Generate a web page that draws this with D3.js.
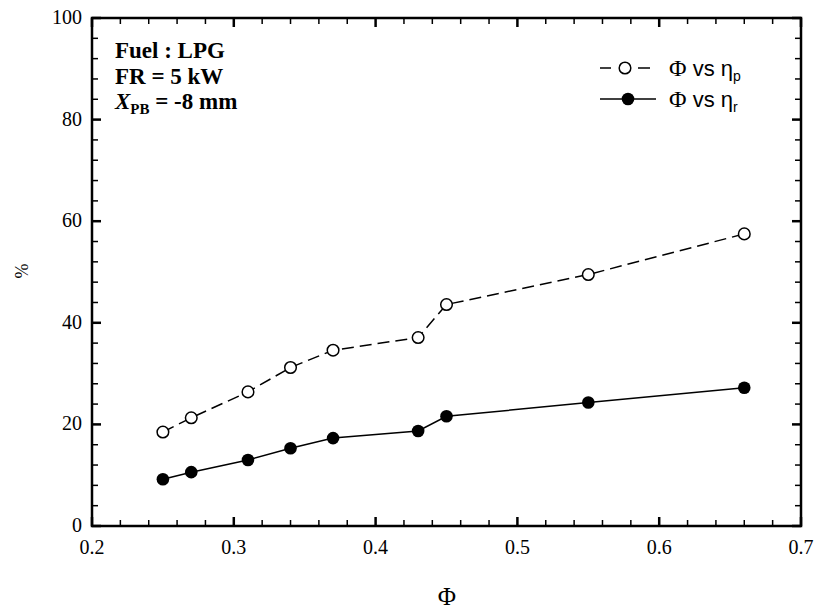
<!DOCTYPE html>
<html><head><meta charset="utf-8">
<script src="https://cdn.jsdelivr.net/npm/d3@7"></script>
<style>body{margin:0;background:#fff}</style>
</head><body>
<svg id="c" width="819" height="613"></svg>
<script>
const phi = [0.25, 0.27, 0.31, 0.34, 0.37, 0.43, 0.45, 0.55, 0.66];
const etaP = [18.5, 21.3, 26.4, 31.2, 34.6, 37.1, 43.6, 49.5, 57.5];
const etaR = [9.2, 10.6, 13.0, 15.3, 17.3, 18.7, 21.6, 24.3, 27.2];
const xTicks = [0.2, 0.3, 0.4, 0.5, 0.6, 0.7];
const yTicks = [0, 20, 40, 60, 80, 100];

const svg = d3.select("#c");
const L = 92, R = 801, T = 18, B = 526;
const x = d3.scaleLinear().domain([0.2, 0.7]).range([L, R]);
const y = d3.scaleLinear().domain([0, 100]).range([B, T]);
const serif = "'Liberation Serif','Times New Roman',serif";
const sans = "'Liberation Sans',Arial,sans-serif";

// minor ticks
const xMinor = d3.range(0.2, 0.7001, 0.02).filter(v => Math.abs(v*10 - Math.round(v*10)) > 1e-6);
const yMinor = d3.range(0, 100.001, 4).filter(v => v % 20 !== 0);

const g = svg.append("g");
function tickLines(vals, len, w) {
  vals.forEach(v => {
    g.append("line").attr("x1", x(v)).attr("x2", x(v)).attr("y1", B).attr("y2", B - len).attr("stroke", "#000").attr("stroke-width", w);
    g.append("line").attr("x1", x(v)).attr("x2", x(v)).attr("y1", T).attr("y2", T + len).attr("stroke", "#000").attr("stroke-width", w);
  });
}
function tickLinesY(vals, len, w) {
  vals.forEach(v => {
    g.append("line").attr("y1", y(v)).attr("y2", y(v)).attr("x1", L).attr("x2", L + len).attr("stroke", "#000").attr("stroke-width", w);
    g.append("line").attr("y1", y(v)).attr("y2", y(v)).attr("x1", R).attr("x2", R - len).attr("stroke", "#000").attr("stroke-width", w);
  });
}
tickLines(xMinor, 6, 1.5);
tickLines(xTicks, 9, 2.5);
tickLinesY(yMinor, 6, 1.5);
tickLinesY(yTicks, 9, 2.5);

g.append("rect").attr("x", L).attr("y", T).attr("width", R - L).attr("height", B - T)
  .attr("fill", "none").attr("stroke", "#000").attr("stroke-width", 2.5);

// tick labels
xTicks.forEach(v => {
  svg.append("text").attr("x", x(v)).attr("y", 554).attr("text-anchor", "middle")
    .attr("font-family", serif).attr("font-size", 20).text(d3.format(".1f")(v));
});
yTicks.forEach(v => {
  svg.append("text").attr("x", 82).attr("y", y(v) + 6).attr("text-anchor", "end")
    .attr("font-family", serif).attr("font-size", 20).text(v);
});

// axis titles
svg.append("text").attr("x", 447).attr("y", 605).attr("text-anchor", "middle")
  .attr("font-family", serif).attr("font-size", 25).text("Φ");
svg.append("text").attr("transform", "translate(28,271) rotate(-90)").attr("text-anchor", "middle")
  .attr("font-family", serif).attr("font-size", 18).text("%");

// series
const line = d3.line().x(d => x(d[0])).y(d => y(d[1]));
const dP = phi.map((p, i) => [p, etaP[i]]);
const dR = phi.map((p, i) => [p, etaR[i]]);
svg.append("path").attr("d", line(dP)).attr("fill", "none").attr("stroke", "#000").attr("stroke-width", 1.5).attr("stroke-dasharray", "12,6");
svg.append("path").attr("d", line(dR)).attr("fill", "none").attr("stroke", "#000").attr("stroke-width", 1.5);
svg.selectAll(".op").data(dP).enter().append("circle").attr("cx", d => x(d[0])).attr("cy", d => y(d[1])).attr("r", 5.8)
  .attr("fill", "#fff").attr("stroke", "#000").attr("stroke-width", 1.5);
svg.selectAll(".fr").data(dR).enter().append("circle").attr("cx", d => x(d[0])).attr("cy", d => y(d[1])).attr("r", 6.3)
  .attr("fill", "#000");

// legend
const lg = svg.append("g");
lg.append("line").attr("x1", 600).attr("x2", 611).attr("y1", 68).attr("y2", 68).attr("stroke", "#000").attr("stroke-width", 1.5);
lg.append("line").attr("x1", 638).attr("x2", 650).attr("y1", 68).attr("y2", 68).attr("stroke", "#000").attr("stroke-width", 1.5);
lg.append("circle").attr("cx", 625).attr("cy", 68).attr("r", 5.8).attr("fill", "#fff").attr("stroke", "#000").attr("stroke-width", 1.5);
lg.append("line").attr("x1", 600).attr("x2", 656).attr("y1", 99).attr("y2", 99).attr("stroke", "#000").attr("stroke-width", 1.5);
lg.append("circle").attr("cx", 628).attr("cy", 99).attr("r", 6.3).attr("fill", "#000");
function legText(yb, sub) {
  const t = lg.append("text").attr("x", 669).attr("y", yb).attr("font-family", sans).attr("font-size", 22);
  t.append("tspan").attr("font-family", serif).attr("font-size", 24).text("Φ");
  t.append("tspan").text(" vs η");
  t.append("tspan").attr("dy", 5).attr("font-size", 14).text(sub);
}
legText(76, "p");
legText(107, "r");

// annotation
const ann = svg.append("g").attr("font-family", serif).attr("font-weight", "bold").attr("font-size", 23);
ann.append("text").attr("x", 115).attr("y", 58).text("Fuel : LPG");
ann.append("text").attr("x", 115).attr("y", 84).text("FR = 5 kW");
const a3 = ann.append("text").attr("x", 115).attr("y", 109);
a3.append("tspan").attr("font-style", "italic").text("X");
a3.append("tspan").attr("dy", 5).attr("font-size", 15).text("PB");
a3.append("tspan").attr("dy", -5).text(" = -8 mm");
</script>
</body></html>
